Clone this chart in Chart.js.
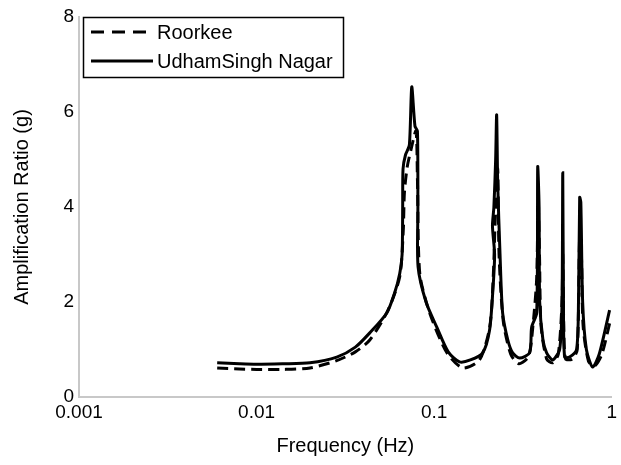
<!DOCTYPE html>
<html>
<head>
<meta charset="utf-8">
<script src="https://cdn.jsdelivr.net/npm/chart.js@4/dist/chart.umd.min.js"></script>
<style>
html,body{margin:0;padding:0;background:#fff;}
#wrap{width:621px;height:465px;position:relative;}
</style>
</head>
<body>
<div id="wrap"><canvas id="c" width="621" height="465"></canvas></div>
<script>
// ---- data ----
const seriesNames = ["Roorkee", "UdhamSingh Nagar"];
const xTickValues = [0.001, 0.01, 0.1, 1];
const yTickStep = 2;

const roorkeeFreq = [0.006,0.008,0.010,0.014,0.020,0.028,0.036,0.0434,0.055,0.064,0.067,0.068,0.0705,0.074,0.079,0.0805,0.083,0.0944,0.118,0.145,0.18,0.2055,0.215,0.222,0.228,0.232,0.245,0.27,0.30,0.34,0.36,0.378,0.385,0.392,0.40,0.43,0.465,0.50,0.525,0.53,0.537,0.55,0.60,0.64,0.66,0.675,0.69,0.74,0.80,0.88,0.98];
const roorkeeAmp  = [0.61,0.59,0.58,0.58,0.61,0.76,0.95,1.20,1.83,2.53,3.50,4.30,4.84,5.20,5.60,4.60,2.60,1.77,0.93,0.61,0.78,1.47,2.50,4.00,4.80,3.00,1.60,0.90,0.70,0.85,1.50,2.50,4.10,3.00,1.50,0.80,0.72,0.90,2.00,3.00,1.50,0.80,0.80,1.00,3.40,3.00,1.50,0.75,0.65,0.90,1.60];

const udhamFreq = [0.006,0.008,0.010,0.014,0.020,0.0283,0.036,0.0434,0.0541,0.060,0.064,0.066,0.0665,0.0668,0.069,0.0725,0.0748,0.078,0.0805,0.081,0.0812,0.09,0.1035,0.12,0.139,0.16,0.1877,0.205,0.2137,0.219,0.213,0.217,0.222,0.2249,0.228,0.235,0.243,0.26,0.2768,0.303,0.345,0.354,0.378,0.383,0.39,0.393,0.41,0.43,0.465,0.509,0.525,0.530,0.535,0.543,0.579,0.634,0.650,0.660,0.670,0.686,0.72,0.781,0.85,0.973];
const udhamAmp  = [0.72,0.70,0.69,0.70,0.72,0.84,1.05,1.35,1.77,2.20,2.60,3.00,4.00,4.80,5.10,5.30,6.53,5.70,5.60,4.00,2.74,2.00,1.47,0.95,0.74,0.78,0.93,1.40,2.19,3.00,3.60,4.00,5.00,5.94,4.50,3.00,1.77,1.20,0.93,0.82,0.93,1.47,1.77,4.84,4.00,2.00,1.20,0.93,0.78,1.00,2.00,4.72,2.00,0.84,0.84,1.00,2.00,4.20,4.10,2.00,1.00,0.63,0.90,1.83];

const toPts = (xs, ys) => xs.map((x, i) => ({x: x, y: ys[i]}));

const legendPlugin = {
  id: 'boxLegend',
  afterDraw(chart) {
    const ctx = chart.ctx;
    ctx.save();
    ctx.strokeStyle = '#000';
    ctx.lineWidth = 1.5;
    ctx.strokeRect(83.5, 17.5, 260, 60);
    const rows = [{y: 32, dash: [13, 8]}, {y: 61, dash: []}];
    ctx.font = '20px "Liberation Sans", Arial, sans-serif';
    ctx.textBaseline = 'middle';
    ctx.fillStyle = '#000';
    rows.forEach((r, i) => {
      ctx.beginPath();
      ctx.setLineDash(r.dash);
      ctx.lineWidth = 3;
      ctx.moveTo(91, r.y);
      ctx.lineTo(153, r.y);
      ctx.stroke();
      ctx.setLineDash([]);
      ctx.fillText(seriesNames[i], 157, r.y + 1);
    });
    ctx.restore();
  }
};

Chart.defaults.font.family = '"Liberation Sans", Arial, sans-serif';
Chart.defaults.color = '#000';

new Chart(document.getElementById('c'), {
  type: 'scatter',
  data: {
    datasets: [
      {label: seriesNames[0], data: toPts(roorkeeFreq, roorkeeAmp), showLine: true, borderColor: '#000', borderWidth: 3, borderDash: [11, 6], pointRadius: 0, tension: 0.25, fill: false},
      {label: seriesNames[1], data: toPts(udhamFreq, udhamAmp), showLine: true, borderColor: '#000', borderWidth: 3, pointRadius: 0, tension: 0.25, fill: false}
    ]
  },
  options: {
    responsive: false,
    animation: false,
    devicePixelRatio: 1,
    layout: {padding: {left: 0, right: 9, top: 17, bottom: 0}},
    plugins: {legend: {display: false}, tooltip: {enabled: false}},
    scales: {
      x: {
        type: 'logarithmic', min: 0.001, max: 1,
        afterBuildTicks: s => { s.ticks = xTickValues.map(v => ({value: v})); },
        afterFit: s => { s.height = 68; },
        grid: {display: false, drawTicks: false},
        border: {display: true, color: '#c8c8c8', width: 2},
        ticks: {font: {size: 19}, color: '#000', padding: 4, maxRotation: 0, callback: v => String(v)},
        title: {display: true, text: 'Frequency (Hz)', font: {size: 20}, color: '#000', padding: {top: 0, bottom: 7}}
      },
      y: {
        min: 0, max: 8,
        afterFit: s => { s.width = 79; },
        grid: {display: false, drawTicks: false},
        border: {display: true, color: '#c8c8c8', width: 2},
        ticks: {stepSize: yTickStep, font: {size: 19}, color: '#000', padding: 5},
        title: {display: true, text: 'Amplification Ratio (g)', font: {size: 20}, color: '#000', padding: {top: 10, bottom: 0}}
      }
    }
  },
  plugins: [legendPlugin]
});
</script>
</body>
</html>
